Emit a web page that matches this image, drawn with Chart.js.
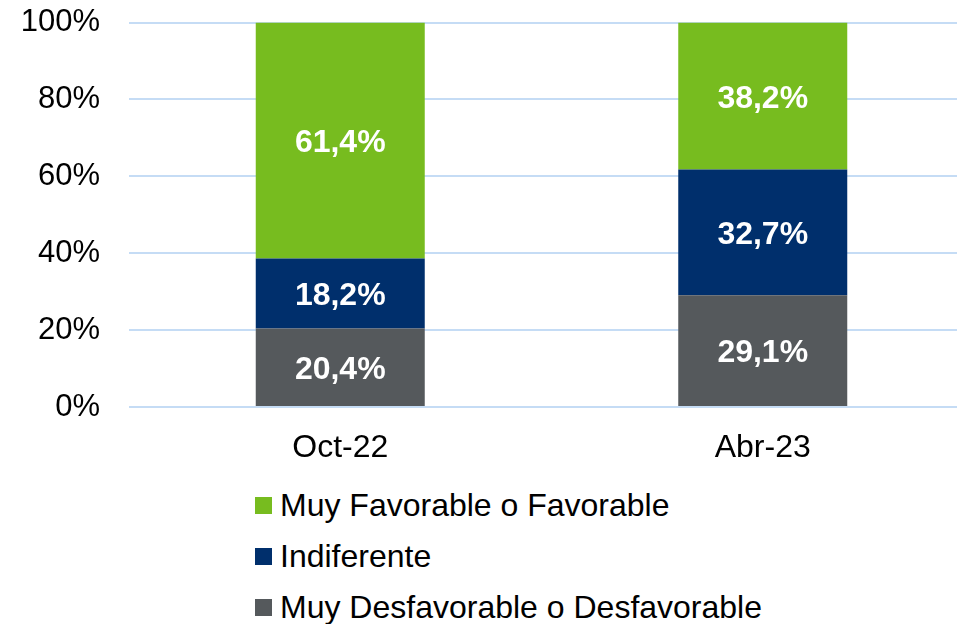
<!DOCTYPE html>
<html>
<head>
<meta charset="utf-8">
<script src="https://cdn.jsdelivr.net/npm/chart.js@4"></script>
<style>
  html, body { margin: 0; padding: 0; background: #fff; overflow: hidden; }
  #wrap { position: absolute; left: 0; top: -25px; width: 974px; height: 495px; }
  #legend { position: absolute; left: 255px; top: 480px; font-family: "Liberation Sans", Arial, sans-serif; font-size: 32px; color: #000; }
  .item { height: 51px; display: flex; align-items: center; }
  .box { width: 17px; height: 17px; margin-right: 8px; }
</style>
</head>
<body>
<div id="wrap"><canvas id="myChart"></canvas></div>
<div id="legend"></div>
<script>
var categories = ['Oct-22', 'Abr-23'];
var desfavorable = [20.4, 29.1];
var indiferente  = [18.2, 32.7];
var favorable    = [61.4, 38.2];
var tick_values  = [0, 20, 40, 60, 80, 100];

// write value inside each bar segment (no datalabels plugin offline)
var bar_labels = {
  id: 'bar_labels',
  afterDatasetsDraw: function(chart){
    var ctx = chart.ctx;
    ctx.save();
    ctx.font = 'bold 32px "Liberation Sans", Arial, sans-serif';
    ctx.fillStyle = '#fff';
    ctx.textAlign = 'center';
    ctx.textBaseline = 'middle';
    chart.data.datasets.forEach(function(ds, i){
      chart.getDatasetMeta(i).data.forEach(function(bar, j){
        var txt = ds.data[j].toFixed(1).replace('.', ',') + '%';
        ctx.fillText(txt, bar.x, (bar.y + bar.base) / 2 + 3);
      });
    });
    ctx.restore();
  }
};

var ctx = document.getElementById('myChart');
var chart = new Chart(ctx, {
  type: 'bar',
  data: {
    labels: categories,
    datasets: [
      { label: 'Muy Desfavorable o Desfavorable', data: desfavorable, backgroundColor: '#55595C' },
      { label: 'Indiferente', data: indiferente, backgroundColor: '#002F6C' },
      { label: 'Muy Favorable o Favorable', data: favorable, backgroundColor: '#77BC1F' }
    ]
  },
  options: {
    responsive: true,
    maintainAspectRatio: false,
    animation: false,
    layout: { padding: { top: 0, left: 21, right: 0, bottom: 0 } },
    datasets: { bar: { categoryPercentage: 1, barPercentage: 0.4 } },
    plugins: { legend: { display: false }, tooltip: { enabled: false } },
    scales: {
      x: {
        stacked: true,
        grid: { display: false },
        border: { display: false },
        afterFit: function(axis){ axis.height = 63; },
        ticks: { color: '#000', padding: 14, font: { family: '"Liberation Sans", Arial, sans-serif', size: 32 } }
      },
      y: {
        stacked: true,
        min: 0, max: 100,
        afterBuildTicks: function(axis){
          axis.ticks = tick_values.map(function(v){ return { value: v }; });
        },
        afterFit: function(axis){ axis.width = 108; },
        grid: { color: '#C5DCF5', lineWidth: 2, drawTicks: false },
        border: { display: false },
        ticks: {
          color: '#000', padding: 29,
          font: { family: '"Liberation Sans", Arial, sans-serif', size: 31 },
          callback: function(v){ return v + '%'; }
        }
      }
    }
  },
  plugins: [bar_labels]
});

// vertical legend, top item first
var legend = document.getElementById('legend');
chart.data.datasets.slice().reverse().forEach(function(ds){
  var row = document.createElement('div');
  row.className = 'item';
  row.innerHTML = '<div class="box" style="background:' + ds.backgroundColor + '"></div><span>' + ds.label + '</span>';
  legend.appendChild(row);
});
</script>
</body>
</html>
